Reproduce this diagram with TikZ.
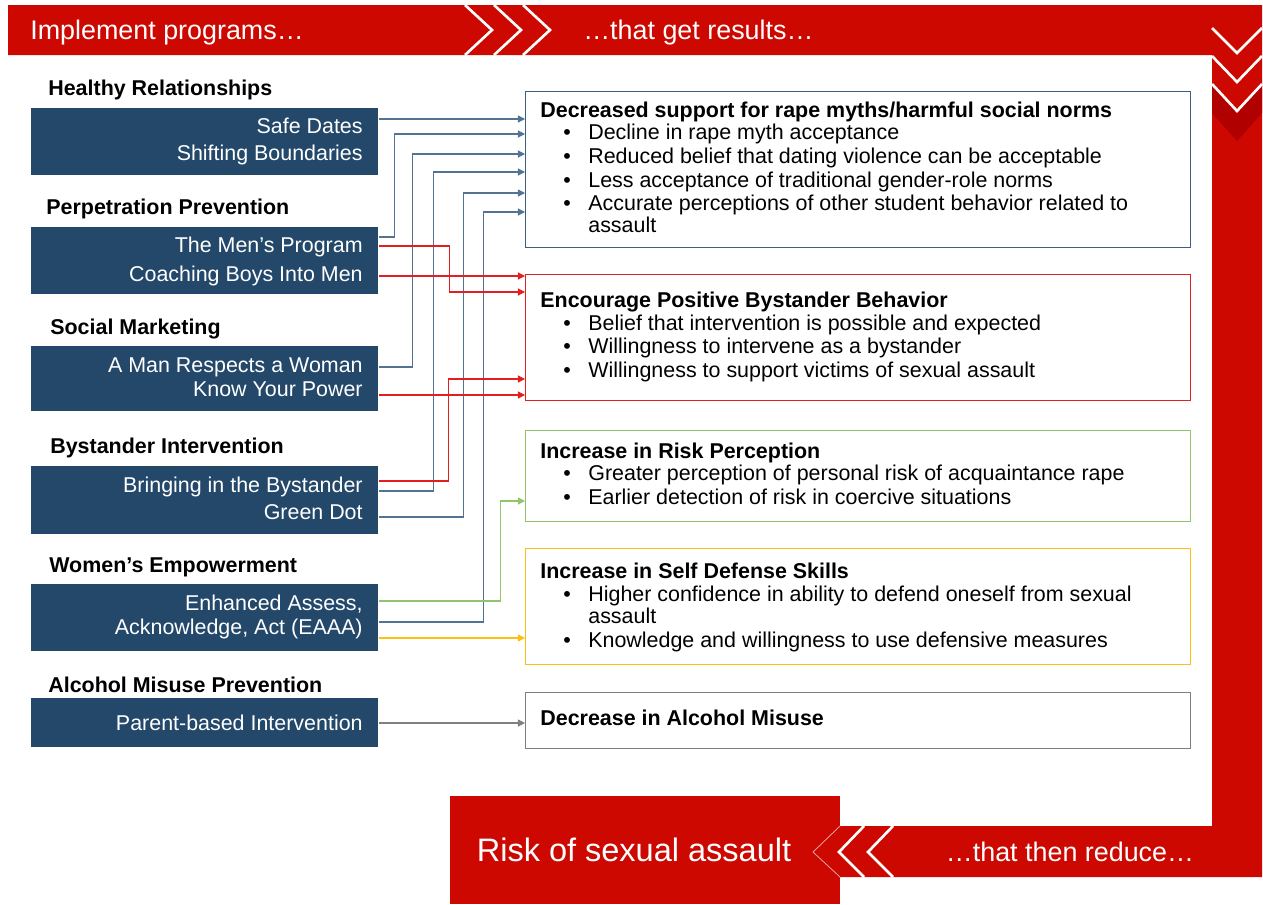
\documentclass[tikz,border=0pt]{standalone}
\usepackage{fontspec}
\setmainfont{Liberation Sans}
\usetikzlibrary{arrows.meta,calc}

\definecolor{bannerred}{RGB}{204,8,0}
\definecolor{darkred}{RGB}{176,0,0}
\definecolor{progblue}{RGB}{35,72,106}
\definecolor{normblue}{RGB}{62,94,130}
\definecolor{linkblue}{RGB}{84,114,146}
\definecolor{linkred}{RGB}{226,30,30}
\definecolor{boxred}{RGB}{222,34,34}
\definecolor{percgreen}{RGB}{146,196,108}
\definecolor{defyellow}{RGB}{250,192,20}
\definecolor{alcgray}{RGB}{128,128,128}

\newcommand{\itembul}{\makebox[0.5cm][l]{\textbullet}}

\begin{document}
\begin{tikzpicture}[
    x=0.02cm, y=-0.02cm,
    >={Triangle[length=4pt,width=4pt]},
    every node/.style={font=\fontsize{12.2}{14}\selectfont},
    txt/.style={inner sep=0,text height=8.6pt,text depth=0pt},
    prog box/.style={rectangle,fill=progblue,anchor=north west,minimum width=6.94cm,inner sep=0},
    prog text/.style={txt,anchor=east,text=white},
    cat label/.style={txt,anchor=west,font=\fontsize{12.2}{14}\selectfont\bfseries},
    out box/.style={rectangle,draw,semithick,anchor=north west,minimum width=13.3cm,inner sep=0},
    out title/.style={txt,anchor=west,font=\fontsize{12.2}{14}\selectfont\bfseries},
    out item/.style={txt,anchor=west},
    link/.style={->,semithick},
    banner text/.style={inner sep=0,text height=10.8pt,text depth=0pt,text=white,font=\fontsize{15.3}{18}\selectfont},
    chevron/.style={white,line width=1.5pt}
]
\useasboundingbox (0,0) rectangle (1263,904);

% Result box at the bottom
\node[fill=bannerred,anchor=north west,minimum width=7.8cm,minimum height=2.16cm,inner sep=0] (assault) at (450,796) {};
\node[inner sep=0,text height=13pt,text depth=0pt,text=white,font=\fontsize{18.5}{22}\selectfont] (assaulttext) at (634,850) {Risk of sexual assault};

% Banner round the page
\fill[bannerred] (8,5) -- (1262,5) -- (1262,877) -- (840,877) -- (813,852) -- (840,826)
    -- (1212,826) -- (1212,55) -- (8,55) -- cycle;
\fill[darkred] (1212,84) -- (1237,111) -- (1262,84) -- (1262,113) -- (1237,141) -- (1212,113) -- cycle;
\draw[chevron] (465,5) -- (492,30) -- (465,55);
\draw[chevron] (494,5) -- (521,30) -- (494,55);
\draw[chevron] (523,5) -- (550,30) -- (523,55);
\draw[chevron] (1212,28) -- (1237,53) -- (1262,28);
\draw[chevron] (1212,56) -- (1237,82) -- (1262,56);
\draw[chevron] (1212,84) -- (1237,111) -- (1262,84);
\draw[white!70!bannerred,thin] (840,826) -- (813,852) -- (840,877);
\draw[chevron] (864,826) -- (839,852) -- (864,877);
\draw[chevron] (893,826) -- (868,852) -- (893,877);

\node[banner text,anchor=west] (implement) at (30,30) {Implement programs…};
\node[banner text,anchor=west] (results) at (583,30) {…that get results…};
\node[banner text] (reduce) at (1070,852) {…that then reduce…};

% Programs
\node[cat label] (healthylabel) at (48,88) {Healthy Relationships};
\node[prog box,minimum height=1.34cm] (healthy) at (31,108) {};
\node[prog text] (safe) at (363,126) {Safe Dates};
\node[prog text] (shifting) at (363,153) {Shifting Boundaries};

\node[cat label] (perplabel) at (46,207) {Perpetration Prevention};
\node[prog box,minimum height=1.34cm] (perp) at (31,227) {};
\node[prog text] (mens) at (363,245) {The Men's Program};
\node[prog text] (coaching) at (363,274) {Coaching Boys Into Men};

\node[cat label] (sociallabel) at (50,327) {Social Marketing};
\node[prog box,minimum height=1.30cm] (social) at (31,346) {};
\node[prog text] (respects) at (363,365) {A Man Respects a Woman};
\node[prog text] (power) at (363,389) {Know Your Power};

\node[cat label] (bystanderlabel) at (50,446) {Bystander Intervention};
\node[prog box,minimum height=1.36cm] (bystander) at (31,466) {};
\node[prog text] (bringing) at (363,485) {Bringing in the Bystander};
\node[prog text] (greendot) at (363,512) {Green Dot};

\node[cat label] (womenlabel) at (49,565) {Women's Empowerment};
\node[prog box,minimum height=1.34cm] (women) at (31,584) {};
\node[prog text] (eaaa) at (363,603) {Enhanced Assess,};
\node[prog text] (eaab) at (363,627) {Acknowledge, Act (EAAA)};

\node[cat label] (alcprevlabel) at (48,685) {Alcohol Misuse Prevention};
\node[prog box,minimum height=0.98cm] (alcprev) at (31,698) {};
\node[prog text] (parent) at (363,723) {Parent-based Intervention};

% Results
\node[out box,draw=normblue,minimum height=3.12cm] (norms) at (525,91) {};
\node[out title] (normstitle) at (540,110) {Decreased support for rape myths/harmful social norms};
\node[out item] (norms1) at (563,132) {\itembul Decline in rape myth acceptance};
\node[out item] (norms2) at (563,156) {\itembul Reduced belief that dating violence can be acceptable};
\node[out item] (norms3) at (563,180) {\itembul Less acceptance of traditional gender-role norms};
\node[out item] (norms4) at (563,203) {\itembul Accurate perceptions of other student behavior related to};
\node[out item] (norms5) at (588,225) {assault};

\node[out box,draw=boxred,minimum height=2.52cm] (bystand) at (525,274) {};
\node[out title] (bystandtitle) at (540,300) {Encourage Positive Bystander Behavior};
\node[out item] (bystand1) at (563,323) {\itembul Belief that intervention is possible and expected};
\node[out item] (bystand2) at (563,346) {\itembul Willingness to intervene as a bystander};
\node[out item] (bystand3) at (563,370) {\itembul Willingness to support victims of sexual assault};

\node[out box,draw=percgreen,minimum height=1.82cm] (perc) at (525,430) {};
\node[out title] (perctitle) at (540,451) {Increase in Risk Perception};
\node[out item] (perc1) at (563,473) {\itembul Greater perception of personal risk of acquaintance rape};
\node[out item] (perc2) at (563,497) {\itembul Earlier detection of risk in coercive situations};

\node[out box,draw=defyellow,minimum height=2.32cm] (defense) at (525,548) {};
\node[out title] (defensetitle) at (540,571) {Increase in Self Defense Skills};
\node[out item] (defense1) at (563,594) {\itembul Higher confidence in ability to defend oneself from sexual};
\node[out item] (defense2) at (588,616) {assault};
\node[out item] (defense3) at (563,640) {\itembul Knowledge and willingness to use defensive measures};

\node[out box,draw=alcgray,minimum height=1.12cm] (alcohol) at (525,692) {};
\node[out title] (alcoholtitle) at (540,718) {Decrease in Alcohol Misuse};

% Links
\draw[link,linkblue] ($(safe.east -| healthy.east)+(0,-7)$) -- ($(safe.east -| norms.west)+(0,-7)$);
\draw[link,linkblue] ($(mens.east -| perp.east)+(0,-8)$) -- ++(16,0) |- ($(norms.north west)+(0,43)$);
\draw[link,linkblue] ($(respects.east -| social.east)+(0,2)$) -- ++(34,0) |- ($(norms.north west)+(0,63)$);
\draw[link,linkblue] ($(bringing.east -| bystander.east)+(0,6)$) -- ++(55,0) |- ($(norms.north west)+(0,81)$);
\draw[link,linkblue] ($(greendot.east -| bystander.east)+(0,5)$) -- ++(85,0) |- ($(norms.north west)+(0,102)$);
\draw[link,linkblue] ($(eaab.east -| women.east)+(0,-5)$) -- ++(105,0) |- ($(norms.north west)+(0,121)$);

\draw[link,linkred] ($(mens.east -| perp.east)+(0,1)$) -- ++(71,0) |- ($(bystand.north west)+(0,18)$);
\draw[link,linkred] ($(coaching.east -| perp.east)+(0,2)$) -- ($(coaching.east -| bystand.west)+(0,2)$);
\draw[link,linkred] ($(power.east -| social.east)+(0,6)$) -- ($(power.east -| bystand.west)+(0,6)$);
\draw[link,linkred] ($(bringing.east -| bystander.east)+(0,-4)$) -- ++(70,0) |- ($(bystand.north west)+(0,105)$);

\draw[link,percgreen] ($(eaaa.east -| women.east)+(0,-2)$) -- ++(122,0) |- ($(perc.north west)+(0,71)$);
\draw[link,defyellow] ($(eaab.east -| women.east)+(0,11)$) -- ($(eaab.east -| defense.west)+(0,11)$);
\draw[link,alcgray] (parent.east -| alcprev.east) -- (parent.east -| alcohol.west);

\end{tikzpicture}
\end{document}
